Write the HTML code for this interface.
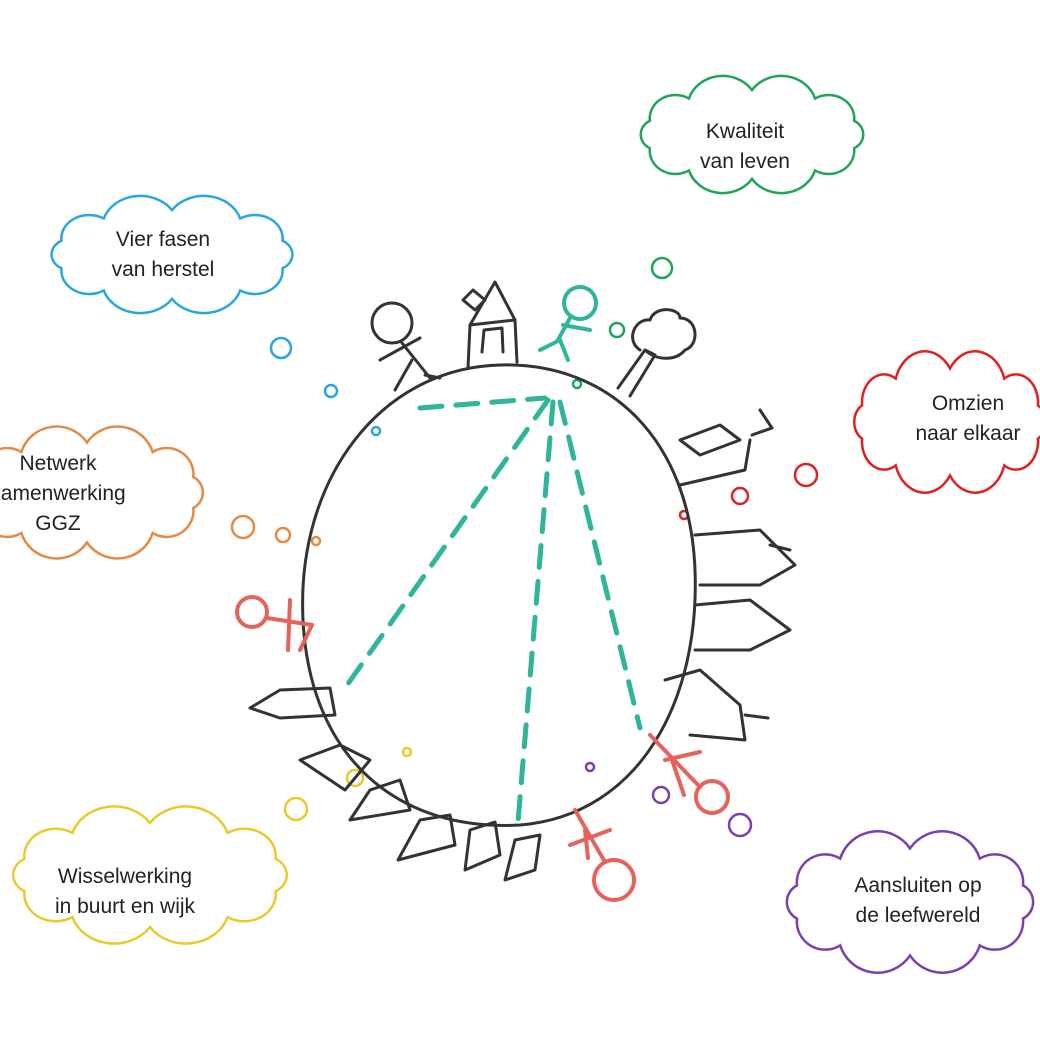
<!DOCTYPE html>
<html><head><meta charset="utf-8"><style>
html,body{margin:0;padding:0;background:#fff;}
svg{display:block}
text{font-family:"Liberation Sans",sans-serif;font-size:21px;fill:#222;text-anchor:middle}
</style></head><body>
<svg width="1040" height="1040" viewBox="0 0 1040 1040" xmlns="http://www.w3.org/2000/svg">
<defs>
<path id="cl" vector-effect="non-scaling-stroke" d="M183.7,62.4 A21,21 0 0 1 151.7,82.4 A29,29 0 0 1 100,90 A29,29 0 0 1 48.3,82.4 A21,21 0 0 1 16.3,62.4 A14,14 0 0 1 16.3,37.6 A21,21 0 0 1 48.3,17.6 A29,29 0 0 1 100,10 A29,29 0 0 1 151.7,17.6 A21,21 0 0 1 183.7,37.6 A14,14 0 0 1 183.7,62.4 Z"/>
</defs>
<g fill="none" stroke-width="2.5">
<use href="#cl" stroke="#1fa558" transform="translate(630,79) scale(1.22,1.11)"/>
<use href="#cl" stroke="#2aa6dc" transform="translate(40,199) scale(1.32,1.11)"/>
<use href="#cl" stroke="#e02020" transform="translate(845,355) scale(1.05,1.34)"/>
<use href="#cl" stroke="#e58a45" transform="translate(-40,430) scale(1.27,1.25)"/>
<use href="#cl" stroke="#ecc92a" transform="translate(0,810) scale(1.5,1.3)"/>
<use href="#cl" stroke="#7a3fb0" transform="translate(775,835) scale(1.35,1.34)"/>
</g>
<g fill="none" stroke-width="2.5">
<circle cx="662" cy="268" r="10" stroke="#1fa558"/><circle cx="617" cy="330" r="7" stroke="#1fa558"/><circle cx="577" cy="384" r="4" stroke="#1fa558"/>
<circle cx="281" cy="348" r="10" stroke="#2aa6dc"/><circle cx="331" cy="391" r="6" stroke="#2aa6dc"/><circle cx="376" cy="431" r="4" stroke="#2aa6dc"/>
<circle cx="806" cy="475" r="11" stroke="#e02020"/><circle cx="740" cy="496" r="8" stroke="#e02020"/><circle cx="684" cy="515" r="4" stroke="#e02020"/>
<circle cx="243" cy="527" r="11" stroke="#e58a45"/><circle cx="283" cy="535" r="7" stroke="#e58a45"/><circle cx="316" cy="541" r="4" stroke="#e58a45"/>
<circle cx="296" cy="809" r="11" stroke="#ecc92a"/><circle cx="355" cy="778" r="8" stroke="#ecc92a"/><circle cx="407" cy="752" r="4" stroke="#ecc92a"/>
<circle cx="740" cy="825" r="11" stroke="#7a3fb0"/><circle cx="661" cy="795" r="8" stroke="#7a3fb0"/><circle cx="590" cy="767" r="4" stroke="#7a3fb0"/>
</g>
<text x="745" y="138">Kwaliteit</text><text x="745" y="168">van leven</text>
<text x="163" y="246">Vier fasen</text><text x="163" y="276">van herstel</text>
<text x="968" y="410">Omzien</text><text x="968" y="440">naar elkaar</text>
<text x="58" y="470">Netwerk</text><text x="58" y="500">samenwerking</text><text x="58" y="530">GGZ</text>
<text x="125" y="883">Wisselwerking</text><text x="125" y="913">in buurt en wijk</text>
<text x="918" y="892">Aansluiten op</text><text x="918" y="922">de leefwereld</text>
<path d="M500,365 C610,362 690,440 695,570 C700,700 640,815 520,825 C400,832 310,760 303,620 C296,480 380,368 500,365 Z" fill="none" stroke="#333" stroke-width="3"/>
<g stroke="#2fb59a" stroke-width="5" stroke-dasharray="22,14" fill="none" stroke-linecap="round">
<line x1="420" y1="408" x2="545" y2="398"/>
<line x1="548" y1="400" x2="345" y2="688"/>
<line x1="553" y1="402" x2="518" y2="822"/>
<line x1="560" y1="402" x2="640" y2="728"/>
</g>
<g fill="none" stroke="#333" stroke-width="3" stroke-linecap="round" stroke-linejoin="round">
<circle cx="392" cy="323" r="20"/><line x1="402" y1="343" x2="430" y2="378"/><line x1="380" y1="360" x2="420" y2="338"/><line x1="412" y1="360" x2="395" y2="390"/><line x1="425" y1="375" x2="440" y2="378"/>
<path d="M468,368 L470,325 L495,282 L515,320 L517,362 M470,325 L515,320 M482,352 L484,330 L502,328 L503,352"/><path d="M463,300 L473,290 L485,300 L475,310 Z"/>
<path d="M618,388 L645,350 L655,355 L630,396 M640,350 C625,340 635,318 650,320 C655,305 680,308 680,318 C698,318 700,345 685,350 C675,362 655,360 645,350"/>
<path d="M680,440 L720,425 L740,440 L700,455 Z M680,485 L745,470 L750,440 M760,410 L772,428 L752,435"/>
<path d="M695,535 L760,530 L795,565 L760,585 L700,585 M770,545 L790,550"/>
<path d="M695,605 L750,600 L790,630 L750,650 L695,650"/>
<path d="M665,680 L700,670 L740,705 L745,740 L690,735 M745,715 L768,718"/>
<path d="M250,708 L280,690 L330,688 L335,715 L280,718 Z"/>
<path d="M300,760 L340,745 L370,760 L345,790 Z"/>
<path d="M350,820 L370,790 L400,780 L410,810 Z"/>
<path d="M398,860 L420,820 L450,815 L455,845 Z"/>
<path d="M465,870 L470,830 L495,822 L500,855 Z"/>
<path d="M505,880 L515,840 L540,835 L535,870 Z"/>
</g>
<g fill="none" stroke="#2fb59a" stroke-width="4" stroke-linecap="round">
<circle cx="580" cy="303" r="16"/><line x1="570" y1="318" x2="558" y2="340"/><line x1="540" y1="350" x2="560" y2="340"/><line x1="560" y1="340" x2="568" y2="360"/><line x1="563" y1="325" x2="590" y2="330"/>
</g>
<g fill="none" stroke="#e8625c" stroke-width="4" stroke-linecap="round">
<circle cx="252" cy="612" r="15"/><line x1="267" y1="618" x2="312" y2="625"/><line x1="290" y1="600" x2="288" y2="650"/><line x1="312" y1="625" x2="300" y2="650"/>
<circle cx="712" cy="797" r="16"/><line x1="700" y1="787" x2="650" y2="735"/><line x1="665" y1="760" x2="700" y2="752"/><line x1="672" y1="760" x2="684" y2="795"/>
<circle cx="614" cy="880" r="20"/><line x1="605" y1="862" x2="575" y2="810"/><line x1="570" y1="845" x2="610" y2="830"/><line x1="585" y1="830" x2="588" y2="858"/>
</g>
</svg>
</body></html>
